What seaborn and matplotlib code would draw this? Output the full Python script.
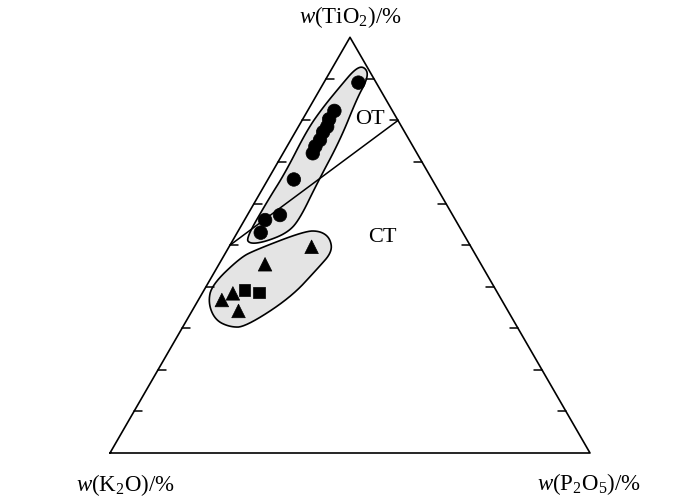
import numpy as np
import pandas as pd
import matplotlib
matplotlib.use("Agg")
import matplotlib.pyplot as plt
import seaborn as sns

# ternary data, values in % (TiO2, K2O, P2O5)
circle_tio2 = [89.1, 82.3, 80.3, 78.5, 77.2, 75.3, 73.7, 72.1, 65.8, 57.3, 56.1, 53.0]
circle_k2o = [3.7, 12.1, 14.2, 15.5, 17.0, 18.6, 20.3, 21.7, 28.8, 36.0, 39.7, 42.1]
circle_p2o5 = [7.2, 5.6, 5.5, 6.0, 5.8, 6.1, 5.9, 6.2, 5.4, 6.8, 4.3, 4.9]

triangle_tio2 = [49.6, 45.4, 38.4, 36.8, 34.2]
triangle_k2o = [33.2, 45.0, 55.2, 58.3, 56.2]
triangle_p2o5 = [17.2, 9.6, 6.4, 4.9, 9.7]

square_tio2 = [39.2, 38.6]
square_k2o = [52.4, 49.6]
square_p2o5 = [8.4, 11.8]

# field outlines (TiO2, P2O5); K2O is the rest
ot_field_tio2 = [93.1, 91.7, 89.2, 85.4, 75.3, 65.0, 56.0, 52.9, 50.8, 50.3, 51.7,
                 60.9, 67.4, 77.7, 83.2, 88.8, 92.1]
ot_field_p2o5 = [6.0, 7.9, 8.7, 8.8, 10.3, 10.7, 11.4, 10.4, 6.9, 4.0, 2.5,
                 2.5, 2.8, 2.2, 2.8, 4.0, 4.8]
ct_field_tio2 = [36.1, 32.0, 30.3, 30.3, 37.3, 44.5, 48.4, 51.7, 53.4, 53.4, 48.8, 46.9, 40.4]
ct_field_p2o5 = [2.4, 5.9, 9.8, 13.0, 18.9, 21.1, 22.1, 20.0, 17.1, 13.9, 5.8, 3.6, 1.0]

# OT / CT boundary line, end points (TiO2, P2O5)
boundary_tio2 = [50, 80]
boundary_p2o5 = [0, 20]

tick_values = [10, 20, 30, 40, 50, 60, 70, 80, 90]


def to_xy(tio2, p2o5, k2o=None):
    t = np.asarray(tio2, dtype=float)
    p = np.asarray(p2o5, dtype=float)
    if k2o is not None:
        total = t + p + np.asarray(k2o, dtype=float)
        t, p = t / total, p / total
    else:
        t, p = t / 100, p / 100
    return p + t / 2, t * np.sqrt(3) / 2


def chaikin(pts, n=3):
    for _ in range(n):
        nxt = np.roll(pts, -1, axis=0)
        out = np.empty((2 * len(pts), 2))
        out[0::2] = 0.75 * pts + 0.25 * nxt
        out[1::2] = 0.25 * pts + 0.75 * nxt
        pts = out
    return pts


sns.set_theme(style="white")
plt.rcParams["font.family"] = ["Liberation Serif", "DejaVu Serif"]
plt.rcParams["text.color"] = "black"
plt.rcParams["mathtext.fontset"] = "custom"
plt.rcParams["mathtext.rm"] = "Liberation Serif"
plt.rcParams["mathtext.it"] = "Liberation Serif:italic"

fig = plt.figure(figsize=(7, 5.04), dpi=100)
ax = fig.add_axes([0, 0, 1, 1])

# fields
for ft, fp in [(ot_field_tio2, ot_field_p2o5), (ct_field_tio2, ct_field_p2o5)]:
    fx, fy = to_xy(ft, fp)
    sm = chaikin(np.column_stack([fx, fy]))
    ax.fill(sm[:, 0], sm[:, 1], facecolor="#e4e4e4", edgecolor="black", lw=1.2, zorder=1)

# triangle frame
h = np.sqrt(3) / 2
ax.plot([0, 1, 0.5, 0], [0, 0, h, 0], color="black", lw=1.2, zorder=2)

# ticks on the two sloping sides
tl = 0.017
for v in tick_values:
    t = v / 100
    ax.plot([t / 2, t / 2 + tl], [t * h, t * h], color="black", lw=1.1, zorder=2)
    ax.plot([1 - t / 2, 1 - t / 2 - tl], [t * h, t * h], color="black", lw=1.1, zorder=2)

# boundary
bx, by = to_xy(boundary_tio2, boundary_p2o5)
ax.plot(bx, by, color="black", lw=1.1, zorder=2)

# samples
frames = []
for kind, t, k, p in [
    ("circle", circle_tio2, circle_k2o, circle_p2o5),
    ("triangle", triangle_tio2, triangle_k2o, triangle_p2o5),
    ("square", square_tio2, square_k2o, square_p2o5),
]:
    x, y = to_xy(t, p, k)
    frames.append(pd.DataFrame({"x": x, "y": y, "kind": kind}))
df = pd.concat(frames, ignore_index=True)

sns.scatterplot(
    data=df, x="x", y="y", style="kind", size="kind",
    markers={"circle": "o", "triangle": "^", "square": "s"},
    sizes={"circle": 95, "triangle": 95, "square": 72},
    color="black", edgecolor="black", linewidth=0.5,
    legend=False, ax=ax, zorder=3,
)
ax.set_xlim(-110 / 480, 590 / 480)
ax.set_ylim(-51 / 480, 453 / 480)
ax.axis("off")

ax.text(0.5104, 0.694, "OT", fontsize=16, ha="left", va="center")
ax.text(0.5677, 0.448, "CT", fontsize=16, ha="center", va="center")

ax.text(0.5, 0.908, r"$\mathit{w}(\mathrm{TiO_2})/\%$", fontsize=16.5, ha="center", va="center")
ax.text(0.033, -0.066, r"$\mathit{w}(\mathrm{K_2O})/\%$", fontsize=16.5, ha="center", va="center")
ax.text(0.998, -0.065, r"$\mathit{w}(\mathrm{P_2O_5})/\%$", fontsize=16.5, ha="center", va="center")

plt.savefig("out.png", dpi=100)
plt.close()
